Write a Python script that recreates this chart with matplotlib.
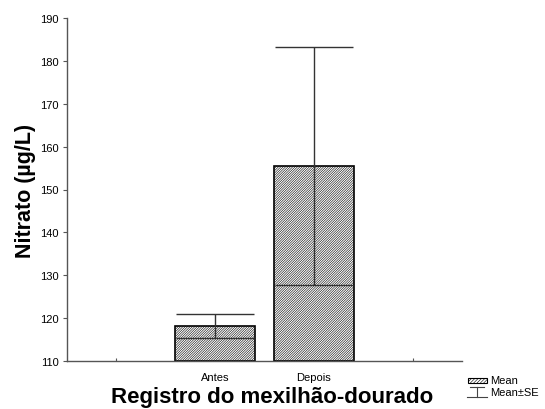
import matplotlib
matplotlib.use('Agg')
import matplotlib.pyplot as plt
from matplotlib.patches import Rectangle
from matplotlib.lines import Line2D

plt.rcParams['font.family'] = ['Liberation Sans', 'DejaVu Sans']
plt.rcParams['hatch.linewidth'] = 0.4
plt.rcParams['hatch.color'] = '#444444'

# categories (first and last slots are empty, as in the original layout)
categories = ['', 'Antes', 'Depois', '']
group_pos = [1, 2]
means = [118.2, 155.5]
se = [2.8, 27.7]

fig = plt.figure(figsize=(5.45, 4.10), dpi=100)
ax = fig.add_axes([67 / 545, 1 - 362 / 410, 395 / 545, 343 / 410])

HATCH = '/' * 14

ax.bar(group_pos, [m - 110 for m in means], bottom=110, width=0.81,
       color='white', edgecolor='black', linewidth=1.2, hatch=HATCH, zorder=2)
ax.errorbar(group_pos, means, yerr=se, fmt='none', ecolor='#333333',
            elinewidth=1.0, capsize=28, capthick=1.0, zorder=3)

ax.set_xlim(-0.5, 3.5)
ax.set_ylim(110, 190)
ax.set_yticks(range(110, 191, 10))
ax.set_xticks(range(len(categories)))
ax.set_xticklabels(categories)

for s in ['top', 'right']:
    ax.spines[s].set_visible(False)
for s in ['left', 'bottom']:
    ax.spines[s].set_color('#555555')
    ax.spines[s].set_linewidth(1.0)

ax.tick_params(axis='y', direction='out', length=3, width=0.8,
               color='#555555', labelsize=8, pad=3)
ax.tick_params(axis='x', direction='in', length=2, width=0.8,
               color='#555555', labelsize=8, pad=8)

ax.set_ylabel('Nitrato (µg/L)', fontsize=15.5, fontweight='bold', labelpad=3)
fig.text(0.5, 1 - 398 / 410, 'Registro do mexilhão-dourado', fontsize=16,
         fontweight='bold', ha='center', va='center')

# legend below the right end of the x axis
fig.patches.append(Rectangle((468 / 545, 1 - 384 / 410), 19 / 545, 5 / 410,
                             transform=fig.transFigure, facecolor='white',
                             edgecolor='black', linewidth=0.8, hatch='/' * 10))
fig.text(490 / 545, 1 - 381 / 410, 'Mean', fontsize=8, va='center')
x0, x1, xm = 467 / 545, 487 / 545, 477 / 545
ytop, ybot = 1 - 388 / 410, 1 - 398 / 410
for xs, ys in [([470 / 545, 484 / 545], [ytop, ytop]),
               ([x0, x1], [ybot, ybot]),
               ([xm, xm], [ytop, ybot])]:
    fig.lines.append(Line2D(xs, ys, transform=fig.transFigure,
                            color='#444444', linewidth=0.8))
fig.text(490 / 545, 1 - 393 / 410, 'Mean±SE', fontsize=8, va='center')

fig.savefig('out.png', dpi=100, facecolor='white')
